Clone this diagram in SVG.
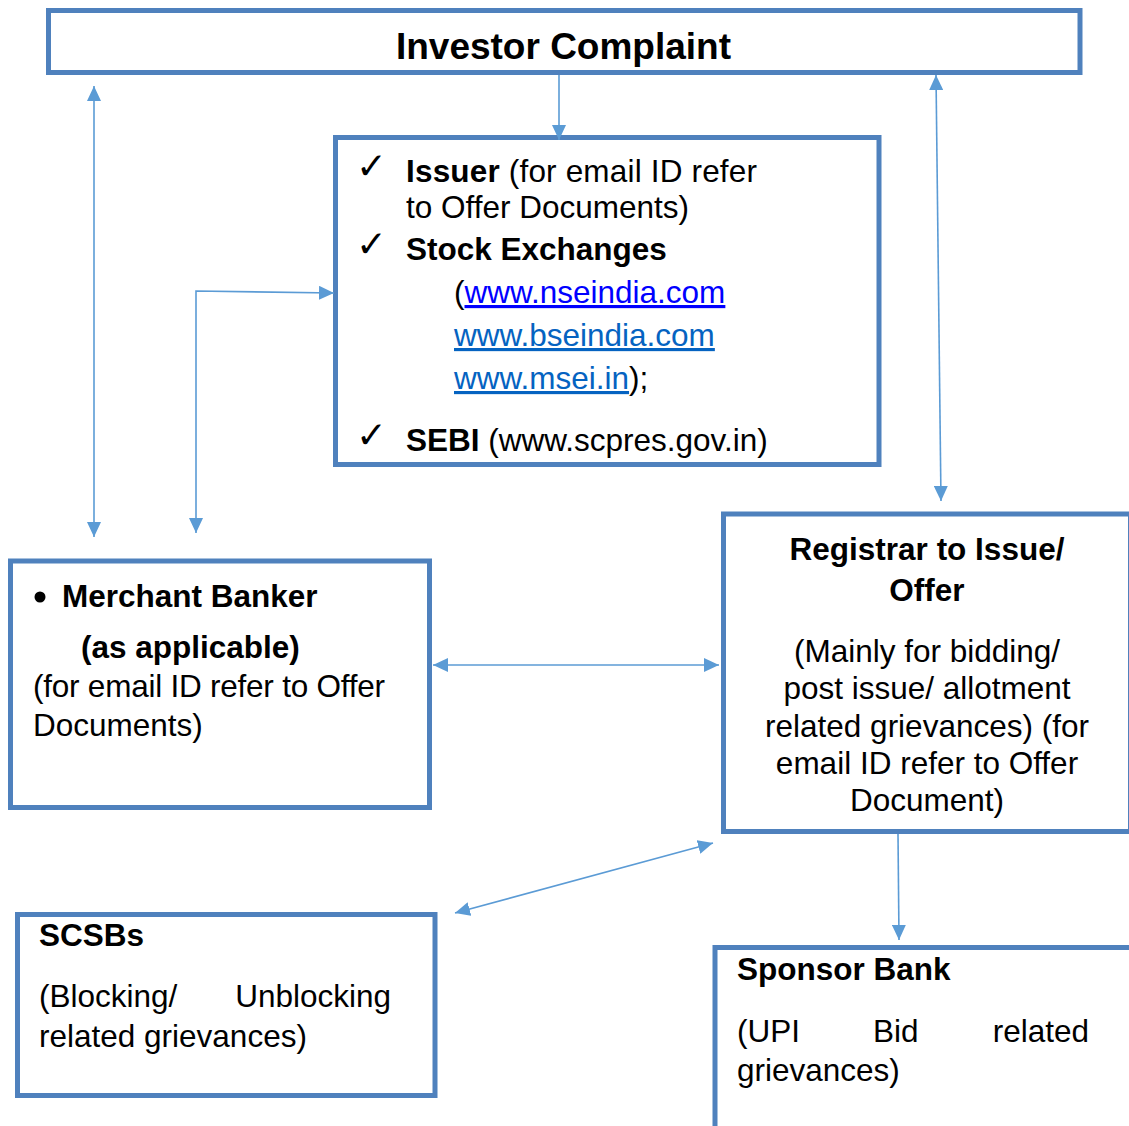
<svg xmlns="http://www.w3.org/2000/svg" width="1129" height="1126" viewBox="0 0 1129 1126">
<style>
.box{fill:#fff;stroke:#4F81BD;stroke-width:5}
.con{fill:none;stroke:#5B9BD5;stroke-width:1.6}
text{font-family:"Liberation Sans",Arial,sans-serif;font-size:31.5px;fill:#000}
.b{font-weight:bold}
.chk{font-family:"DejaVu Sans",sans-serif;font-size:37px}
.l1{fill:#0000FF;text-decoration:underline}
.l2{fill:#0563C1;text-decoration:underline}
</style>
<defs>
<marker id="ah" markerUnits="userSpaceOnUse" markerWidth="16" markerHeight="14" refX="15" refY="7" orient="auto-start-reverse">
<path d="M0,0 L15,7 L0,14 z" fill="#5B9BD5"/>
</marker>
</defs>
<rect width="1129" height="1126" fill="#fff"/>

<g id="investor">
<rect class="box" x="48.5" y="10.5" width="1031.5" height="62"/>
<text class="b" x="563.5" y="59" text-anchor="middle" style="font-size:37px">Investor Complaint</text>
</g>

<g id="issuer">
<rect class="box" x="335.5" y="137.5" width="543.5" height="327"/>
<text class="chk" x="356" y="179">✓</text>
<text x="406" y="182" textLength="351"><tspan class="b">Issuer</tspan> (for email ID refer</text>
<text x="406" y="218">to Offer Documents)</text>
<text class="chk" x="356" y="257">✓</text>
<text class="b" x="406" y="260">Stock Exchanges</text>
<text x="454" y="303">(<tspan class="l1">www.nseindia.com</tspan></text>
<text x="454" y="346"><tspan class="l2">www.bseindia.com</tspan></text>
<text x="454" y="389"><tspan class="l2">www.msei.in</tspan>);</text>
<text class="chk" x="356" y="448">✓</text>
<text x="406" y="451"><tspan class="b">SEBI</tspan> (www.scpres.gov.in)</text>
</g>

<g id="merchant">
<rect class="box" x="10.5" y="561" width="419" height="246.5"/>
<circle cx="40" cy="597" r="5.5" fill="#000"/>
<text class="b" x="62" y="607">Merchant Banker</text>
<text class="b" x="81" y="658">(as applicable)</text>
<text x="33" y="697" textLength="352">(for email ID refer to Offer</text>
<text x="33" y="736">Documents)</text>
</g>

<g id="registrar">
<rect class="box" x="723.5" y="514" width="407" height="317.5"/>
<text class="b" x="927" y="560" text-anchor="middle">Registrar to Issue/</text>
<text class="b" x="927" y="601" text-anchor="middle">Offer</text>
<text x="927" y="662" text-anchor="middle">(Mainly for bidding/</text>
<text x="927" y="699" text-anchor="middle">post issue/ allotment</text>
<text x="927" y="737" text-anchor="middle">related grievances) (for</text>
<text x="927" y="774" text-anchor="middle">email ID refer to Offer</text>
<text x="927" y="811" text-anchor="middle">Document)</text>
</g>

<g id="scsbs">
<rect class="box" x="17.5" y="914.5" width="417.5" height="181"/>
<text class="b" x="39" y="946">SCSBs</text>
<text x="39" y="1007">(Blocking/</text>
<text x="391" y="1007" text-anchor="end">Unblocking</text>
<text x="39" y="1047">related grievances)</text>
</g>

<g id="sponsor">
<rect class="box" x="715" y="947.5" width="420" height="190"/>
<text class="b" x="737" y="980">Sponsor Bank</text>
<text x="737" y="1042">(UPI</text>
<text x="873" y="1042">Bid</text>
<text x="1089" y="1042" text-anchor="end">related</text>
<text x="737" y="1081">grievances)</text>
</g>

<g id="connectors">
<path class="con" d="M559,75 L559,140" marker-end="url(#ah)"/>
<path class="con" d="M94,86 L94,537" marker-start="url(#ah)" marker-end="url(#ah)"/>
<path class="con" d="M196,533 L196,291 L334,293" marker-start="url(#ah)" marker-end="url(#ah)"/>
<path class="con" d="M433,665 L719,665" marker-start="url(#ah)" marker-end="url(#ah)"/>
<path class="con" d="M936,75 L941,501" marker-start="url(#ah)" marker-end="url(#ah)"/>
<path class="con" d="M898,834 L899,940" marker-end="url(#ah)"/>
<path class="con" d="M455,913 L713,843" marker-start="url(#ah)" marker-end="url(#ah)"/>
</g>
</svg>
